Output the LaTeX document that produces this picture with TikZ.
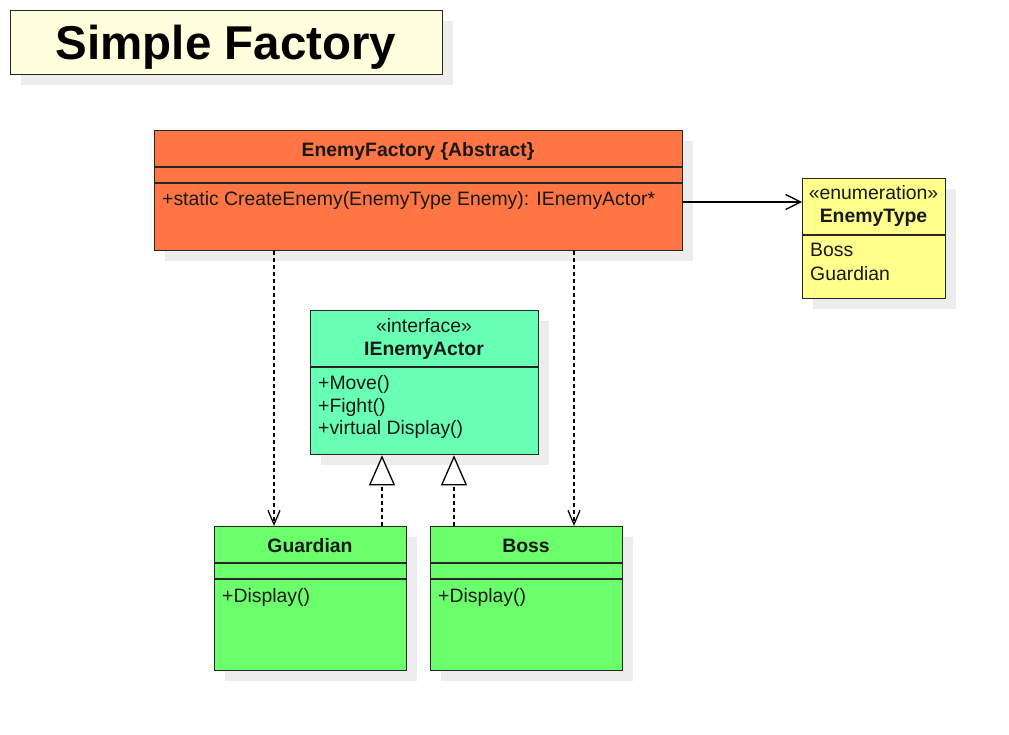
\documentclass[tikz,border=0pt]{standalone}
\usepackage{fontspec}
\setmainfont{Liberation Sans}
\usetikzlibrary{arrows.meta}
\usetikzlibrary{shadows}

\definecolor{titlefill}{RGB}{255,255,221}
\definecolor{factoryfill}{RGB}{255,117,68}
\definecolor{enumfill}{RGB}{255,255,140}
\definecolor{ifacefill}{RGB}{104,255,180}
\definecolor{classfill}{RGB}{108,255,108}

\begin{document}
\begin{tikzpicture}[x=1pt, y=-1pt]
            \tikzstyle{umlbox} = [draw=black!85, line width=1.3pt, rectangle, anchor=north west, inner sep=0pt,
                               drop shadow={shadow xshift=10pt, shadow yshift=-10pt, fill=black!7, opacity=1}]
            \tikzstyle{umlsep} = [draw=black!85, line width=1.3pt]
            \tikzstyle{umltext} = [inner sep=0pt, text=black!90, font=\fontsize{19.4}{22}\selectfont]
            \tikzstyle{umlname} = [umltext, anchor=base, font=\fontsize{19.4}{22}\selectfont\bfseries]
            \tikzstyle{umlmember} = [umltext, anchor=base west]
            \tikzstyle{umldep} = [line width=1.3pt, dash pattern=on 4pt off 3pt, -{Straight Barb[length=14pt, width=12pt]}]
            \tikzstyle{umlreal} = [line width=1.3pt, dash pattern=on 4pt off 3pt, -{Triangle[length=30pt, width=26pt, fill=white]}]
            \tikzstyle{umlassoc} = [line width=1.3pt, -{Straight Barb[length=15pt, width=15pt]}]
            \useasboundingbox (0,0) rectangle (1009,735);
            % title
            \node[umlbox, fill=titlefill, minimum width=432pt, minimum height=64pt] (title) at (10,10) {};
            \node[inner sep=0pt, anchor=base, font=\fontsize{47.5}{50}\selectfont\bfseries] (title-text) at (226,60) {Simple Factory};
            % classes
            \node[umlbox, fill=factoryfill, minimum width=528pt, minimum height=120pt] (factory) at (154,130) {};
            \node[umlbox, fill=enumfill, minimum width=143pt, minimum height=120pt] (enum) at (802,178) {};
            \node[umlbox, fill=ifacefill, minimum width=228pt, minimum height=144pt] (iface) at (310,310) {};
            \node[umlbox, fill=classfill, minimum width=192pt, minimum height=144pt] (guardian) at (214,526) {};
            \node[umlbox, fill=classfill, minimum width=192pt, minimum height=144pt] (boss) at (430,526) {};
            % compartments
            \draw[umlsep] ([yshift=-37pt]factory.north west) -- ([yshift=-37pt]factory.north east);
            \draw[umlsep] ([yshift=-53pt]factory.north west) -- ([yshift=-53pt]factory.north east);
            \draw[umlsep] ([yshift=-57pt]enum.north west) -- ([yshift=-57pt]enum.north east);
            \draw[umlsep] ([yshift=-57pt]iface.north west) -- ([yshift=-57pt]iface.north east);
            \foreach \c in {guardian, boss} {
                \draw[umlsep] ([yshift=-37pt]\c.north west) -- ([yshift=-37pt]\c.north east);
                \draw[umlsep] ([yshift=-53pt]\c.north west) -- ([yshift=-53pt]\c.north east);
            }
            % texts
            \node[umlname] (factory-name) at (418,157) {EnemyFactory \{Abstract\}};
            \node[umlmember] (factory-op) at (162,206) {+static CreateEnemy(EnemyType Enemy): IEnemyActor*};
            \node[umltext, anchor=base] (enum-stereo) at (873.5,200) {«enumeration»};
            \node[umlname] (enum-name) at (873.5,223) {EnemyType};
            \node[umlmember] (enum-boss) at (810,257) {Boss};
            \node[umlmember] (enum-guardian) at (810,280) {Guardian};
            \node[umltext, anchor=base] (iface-stereo) at (424,332) {«interface»};
            \node[umlname] (iface-name) at (424,355) {IEnemyActor};
            \node[umlmember] (iface-move) at (318,389.5) {+Move()};
            \node[umlmember] (iface-fight) at (318,412) {+Fight()};
            \node[umlmember] (iface-display) at (318,434.5) {+virtual Display()};
            \node[umlname] (guardian-name) at (310,552) {Guardian};
            \node[umlmember] (guardian-op) at (222,602) {+Display()};
            \node[umlname] (boss-name) at (526,552) {Boss};
            \node[umlmember] (boss-op) at (438,602) {+Display()};
            % connectors
            \draw[umlassoc] ([yshift=-72pt]factory.north east) -- ([yshift=-24pt]enum.north west);
            \draw[umldep] ([xshift=120pt]factory.south west) -- ([xshift=60pt]guardian.north west);
            \draw[umldep] ([xshift=420pt]factory.south west) -- ([xshift=144pt]boss.north west);
            \draw[umlreal] ([xshift=168pt]guardian.north west) -- ([xshift=72pt]iface.south west);
            \draw[umlreal] ([xshift=24pt]boss.north west) -- ([xshift=144pt]iface.south west);
        \end{tikzpicture}
\end{document}
